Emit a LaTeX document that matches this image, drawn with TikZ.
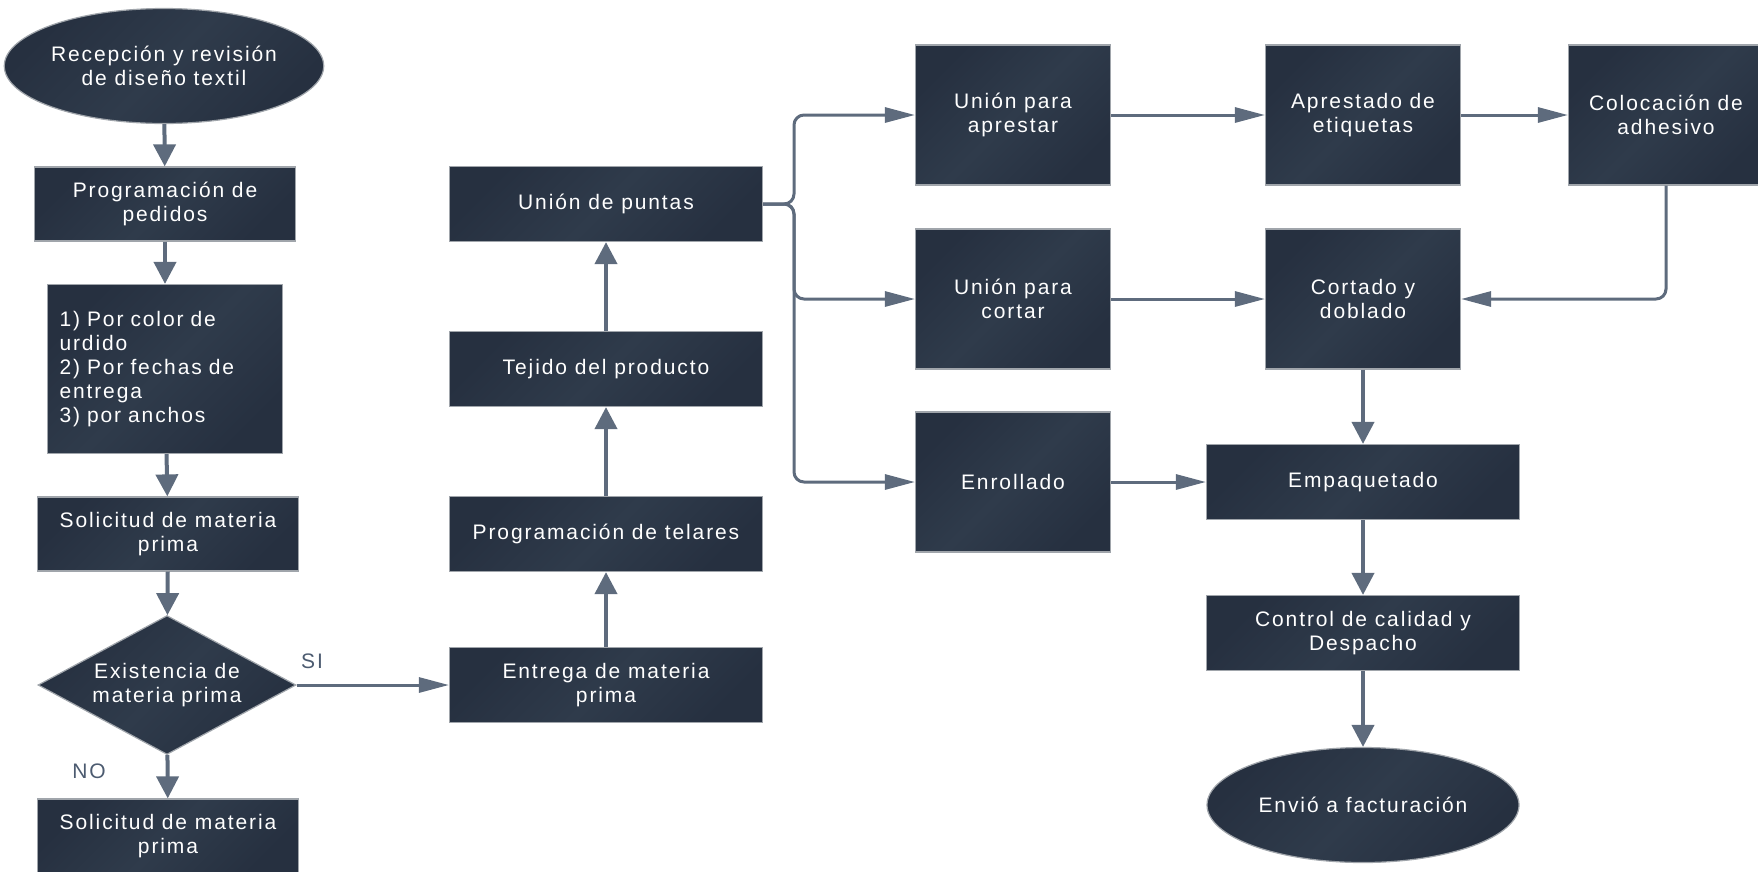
\documentclass[tikz,border=0pt]{standalone}
\usepackage{fontspec}
\newfontfamily\boxfont{Liberation Sans}[LetterSpace=9]
\usetikzlibrary{arrows.meta, positioning, shapes.geometric}
\definecolor{boxdark}{HTML}{263040}
\definecolor{boxlite}{HTML}{2F3B4B}
\definecolor{boxline}{HTML}{A0A5AB}
\definecolor{arrowgray}{HTML}{5E6B7D}
\definecolor{labelgray}{HTML}{4C5B70}
\tikzset{%
  proc/.style={draw=boxline, line width=1.2pt, top color=boxdark, bottom color=boxdark,
    middle color=boxlite, shading angle=45, text=white, align=center, inner sep=0pt,
    font=\boxfont\fontsize{21}{24}\selectfont},
  flat/.style={proc, minimum width=261pt, minimum height=74pt}, % low wide boxes
  wideflat/.style={proc, minimum width=313pt, minimum height=75pt},
  tall/.style={proc, minimum width=195pt, minimum height=140pt}, % right hand boxes
  terminal/.style={proc, ellipse, minimum width=312pt, minimum height=115pt},
  varrow/.style={draw=arrowgray, line width=4pt, -{Triangle[length=22pt, width=22pt]}},
  harrow/.style={draw=arrowgray, line width=3pt, -{Triangle[length=30pt, width=15pt]}},
  answer/.style={text=labelgray, font=\boxfont\fontsize{21}{24}\selectfont}
}
\begin{document}
\begin{tikzpicture}[x=1pt, y=-1pt]
\useasboundingbox (0,0) rectangle (1758,871);

% left column
\node[terminal] (recep) at (164,66) {Recepción y revisión\\de diseño textil};
\node[flat] (pedidos) at (165,204) {Programación de\\pedidos};
\node[proc, align=left, text width=211pt, minimum width=235pt, minimum height=169pt] (orden) at (165,369)
  {1) Por color de\\urdido\\2) Por fechas de\\entrega\\3) por anchos};
\node[flat] (sol) at (168,534) {Solicitud de materia\\prima};
\node[proc, diamond, aspect=1.86, minimum width=258pt, minimum height=139pt] (exist) at (167,685) {Existencia de\\materia prima};
\node[flat] (sol2) at (168,836) {Solicitud de materia\\prima};
\node[answer] (si) at (312,661) {SI};
\node[answer] (no) at (89,771) {NO};

% second column, going up
\node[wideflat] (entrega) at (606,685) {Entrega de materia\\prima};
\node[wideflat] (telares) at (606,534) {Programación de telares};
\node[wideflat] (tejido) at (606,369) {Tejido del producto};
\node[wideflat] (puntas) at (606,204) {Unión de puntas};

% right part
\node[tall] (apr) at (1013,115) {Unión para\\aprestar};
\node[tall] (cortar) at (1013,299) {Unión para\\cortar};
\node[tall] (enroll) at (1013,482) {Enrollado};
\node[tall] (etiq) at (1363,115) {Aprestado de\\etiquetas};
\node[tall] (cortado) at (1363,299) {Cortado y\\doblado};
\node[tall] (coloc) at (1666,115) {Colocación de\\adhesivo};
\node[wideflat] (empaq) at (1363,482) {Empaquetado};
\node[wideflat] (control) at (1363,633) {Control de calidad y\\Despacho};
\node[terminal] (envio) at (1363,805) {Envió a facturación};
\coordinate (fk) at (794,204);

\draw[varrow] (recep) -- (pedidos);
\draw[varrow] (pedidos) -- (orden);
\draw[varrow] (orden) -- (sol);
\draw[varrow] (sol) -- (exist);
\draw[varrow] (exist) -- (sol2);
\draw[harrow] (exist.east) -- (entrega.west);
\draw[varrow] (entrega) -- (telares);
\draw[varrow] (telares) -- (tejido);
\draw[varrow] (tejido) -- (puntas);

\draw[harrow, rounded corners=10pt] (puntas.east) -- (fk) |- (apr.west);
\draw[harrow, rounded corners=10pt] (puntas.east) -- (fk) |- (cortar.west);
\draw[harrow, rounded corners=10pt] (puntas.east) -- (fk) |- (enroll.west);
\draw[harrow] (apr) -- (etiq);
\draw[harrow] (etiq) -- (coloc);
\draw[harrow] (cortar) -- (cortado);
\draw[harrow, rounded corners=10pt] (coloc.south) |- (cortado.east);
\draw[harrow] (enroll) -- (empaq);
\draw[varrow] (cortado) -- (empaq);
\draw[varrow] (empaq) -- (control);
\draw[varrow] (control) -- (envio);

\end{tikzpicture}
\end{document}
